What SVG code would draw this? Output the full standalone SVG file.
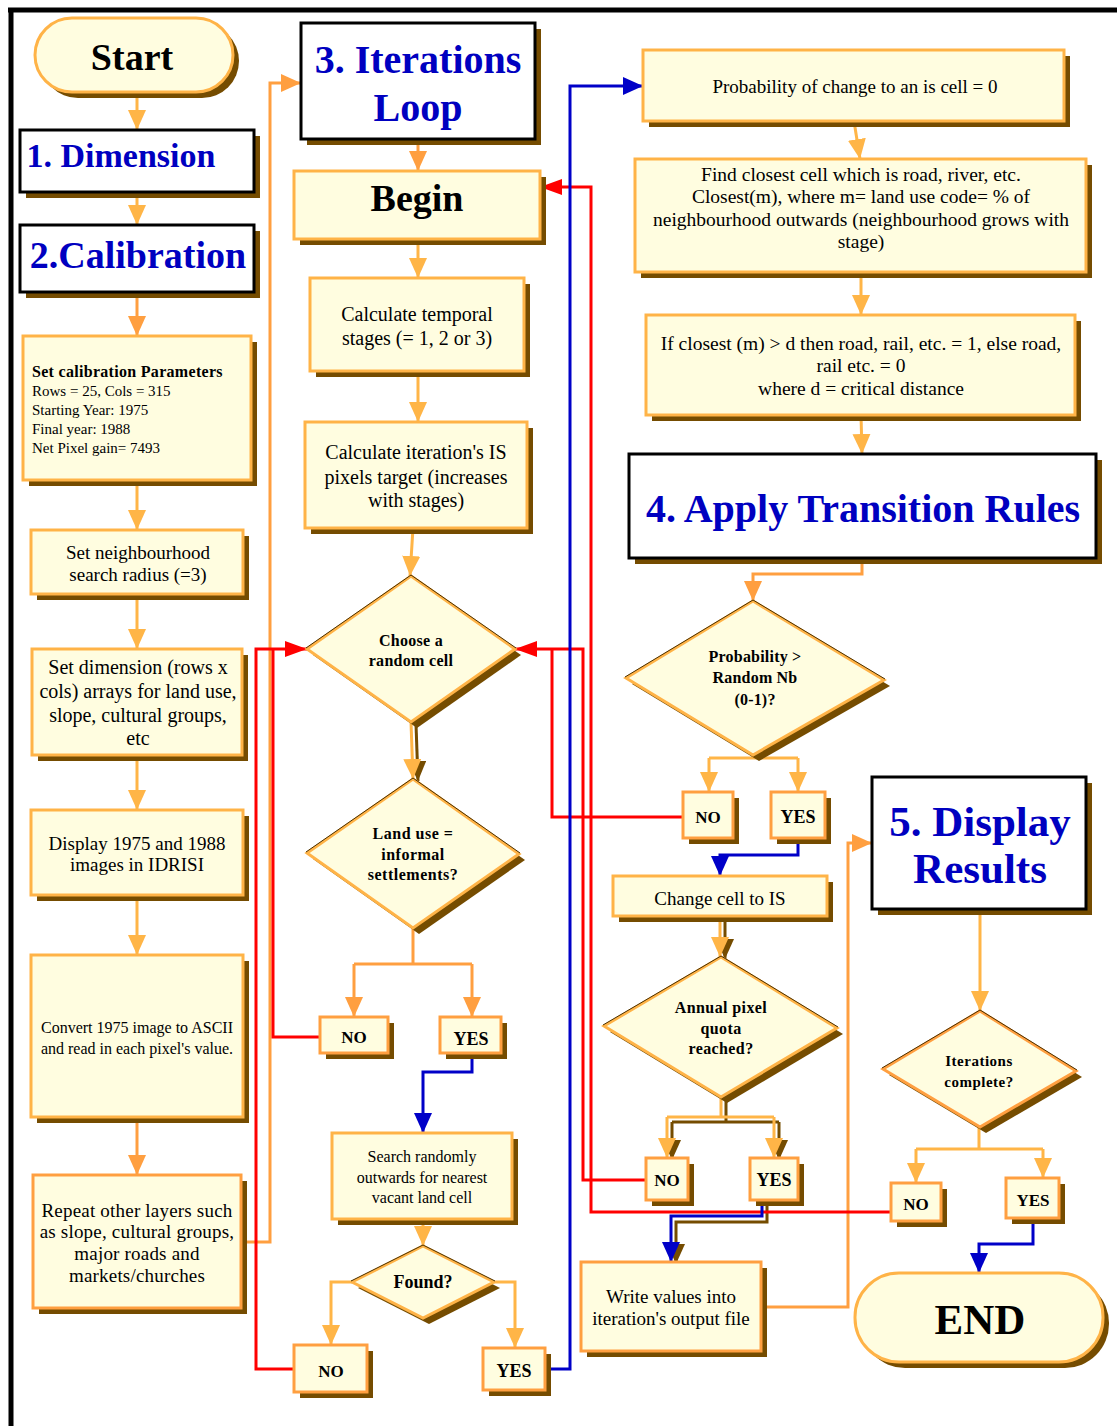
<svg xmlns="http://www.w3.org/2000/svg" width="1117" height="1426" viewBox="0 0 1117 1426">
<style>
.box{fill:#fffde0;stroke:#ffb347;stroke-width:3}
.box2{fill:#fffde0;stroke:#ff9f40;stroke-width:3}
.hdr{fill:#fff;stroke:#000;stroke-width:3}
.sh{fill:#754c00}
.edge{fill:none;stroke:#4a3000;stroke-width:1}
.t{font-family:"Liberation Serif","Times New Roman",serif;fill:#000;text-anchor:middle}
.l{text-anchor:start}
.b{font-weight:bold}
.ttl{font-family:"Liberation Serif","Times New Roman",serif;font-weight:bold;fill:#0000c0;text-anchor:middle}
.co{fill:none;stroke:#ffb547;stroke-width:3}
.co2{fill:none;stroke:#ff9f40;stroke-width:3}
.cs{fill:none;stroke:#754c00;stroke-width:3}
.red{fill:none;stroke:#ff0000;stroke-width:3}
.blue{fill:none;stroke:#0000c8;stroke-width:3}
</style>
<defs>
<marker id="aO" markerUnits="userSpaceOnUse" markerWidth="20" markerHeight="18" viewBox="0 0 20 18" refX="20" refY="9" orient="auto"><path d="M0,0L20,9L0,18z" fill="#ffb547"/></marker>
<marker id="aO2" markerUnits="userSpaceOnUse" markerWidth="20" markerHeight="18" viewBox="0 0 20 18" refX="20" refY="9" orient="auto"><path d="M0,0L20,9L0,18z" fill="#ff9f40"/></marker>
<marker id="aS" markerUnits="userSpaceOnUse" markerWidth="20" markerHeight="18" viewBox="0 0 20 18" refX="20" refY="9" orient="auto"><path d="M0,0L20,9L0,18z" fill="#754c00"/></marker>
<marker id="aR" markerUnits="userSpaceOnUse" markerWidth="22" markerHeight="16" viewBox="0 0 22 16" refX="22" refY="8" orient="auto"><path d="M0,0L22,8L0,16z" fill="#ff0000"/></marker>
<marker id="aB" markerUnits="userSpaceOnUse" markerWidth="20" markerHeight="18" viewBox="0 0 20 18" refX="20" refY="9" orient="auto"><path d="M0,0L20,9L0,18z" fill="#0000c8"/></marker>
</defs>
<rect width="1117" height="1426" fill="#fff"/>
<g id="frame">
<line x1="8" y1="10" x2="1117" y2="10" stroke="#000" stroke-width="5"/>
<line x1="11" y1="8" x2="11" y2="1426" stroke="#000" stroke-width="5"/>
</g>

<g id="connectors">
<path class="cs" d="M416,724 L418,781" marker-end="url(#aS)"/>
<path class="cs" d="M725,918 L725,959" marker-end="url(#aS)"/>
<path class="cs" d="M726,1099 L726,1122 M672,1122 L779,1122 M672,1122 L672,1160" marker-end="url(#aS)"/>
<path class="cs" d="M779,1122 L779,1160" marker-end="url(#aS)"/>
<path class="cs" d="M767,1202 L767,1222 L676,1222 L676,1264" marker-end="url(#aS)"/>
<path class="co" d="M137,92 L137,130" marker-end="url(#aO)"/>
<path class="co" d="M137,192 L137,225" marker-end="url(#aO)"/>
<path class="co2" d="M137,292 L137,336" marker-end="url(#aO2)"/>
<path class="co" d="M137,480 L137,530" marker-end="url(#aO)"/>
<path class="co" d="M137,594 L137,649" marker-end="url(#aO)"/>
<path class="co" d="M137,755 L137,810" marker-end="url(#aO)"/>
<path class="co" d="M137,895 L137,955" marker-end="url(#aO)"/>
<path class="co2" d="M137,1117 L137,1175" marker-end="url(#aO2)"/>
<path class="co2" d="M241,1242 L270,1242 L270,83 L301,83" marker-end="url(#aO2)"/>
<path class="co2" d="M418,139 L418,171" marker-end="url(#aO2)"/>
<path class="co" d="M418,239 L418,278" marker-end="url(#aO)"/>
<path class="co" d="M418,371 L418,422" marker-end="url(#aO)"/>
<path class="co" d="M413,528 L410,576" marker-end="url(#aO)"/>
<path class="co" d="M411,722 L413,779" marker-end="url(#aO)"/>
<path class="co2" d="M413,928 L413,964 M354,964 L472,964 M354,964 L354,1017" marker-end="url(#aO2)"/>
<path class="co2" d="M472,964 L472,1017" marker-end="url(#aO2)"/>
<path class="co" d="M423,1219 L423,1246" marker-end="url(#aO)"/>
<path class="co" d="M352,1282 L331,1282 L331,1345" marker-end="url(#aO)"/>
<path class="co" d="M494,1282 L515,1282 L515,1348" marker-end="url(#aO)"/>
<path class="co" d="M854,121 L860,159" marker-end="url(#aO)"/>
<path class="co" d="M861,272 L861,315" marker-end="url(#aO)"/>
<path class="co" d="M861,415 L862,454" marker-end="url(#aO)"/>
<path class="co2" d="M862,560 L862,574 L753,574 L753,601" marker-end="url(#aO2)"/>
<path class="co" d="M753,755 L753,758 M709,758 L798,758 M709,758 L709,792" marker-end="url(#aO)"/>
<path class="co" d="M798,758 L798,792" marker-end="url(#aO)"/>
<path class="co" d="M720,916 L720,957" marker-end="url(#aO)"/>
<path class="co" d="M721,1097 L721,1117 M667,1117 L774,1117 M667,1117 L667,1158" marker-end="url(#aO)"/>
<path class="co" d="M774,1117 L774,1158" marker-end="url(#aO)"/>
<path class="co2" d="M761,1307 L848,1307 L848,843 L872,843" marker-end="url(#aO2)"/>
<path class="co" d="M980,909 L980,1011" marker-end="url(#aO)"/>
<path class="co" d="M979,1127 L979,1149 M916,1149 L1043,1149 M916,1149 L916,1183" marker-end="url(#aO)"/>
<path class="co" d="M1043,1149 L1043,1178" marker-end="url(#aO)"/>
<path class="red" d="M320,1037 L273,1037 L273,649"/>
<path class="red" d="M294,1369 L256,1369 L256,649 L307,649" marker-end="url(#aR)"/>
<path class="red" d="M683,817 L552,817 L552,649"/>
<path class="red" d="M646,1180 L583,1180 L583,649 L515,649" marker-end="url(#aR)"/>
<path class="red" d="M891,1212 L591,1212 L591,187 L540,187" marker-end="url(#aR)"/>
<path class="blue" d="M545,1369 L570,1369 L570,86 L643,86" marker-end="url(#aB)"/>
<path class="blue" d="M472,1053 L472,1072 L423,1072 L423,1133" marker-end="url(#aB)"/>
<path class="blue" d="M798,838 L798,855 L720,855 L720,876" marker-end="url(#aB)"/>
<path class="blue" d="M762,1200 L762,1216 L671,1216 L671,1262" marker-end="url(#aB)"/>
<path class="blue" d="M1033,1218 L1033,1244 L979,1244 L979,1273" marker-end="url(#aB)"/>
</g>

<g id="start">
<rect class="sh" x="41" y="24" width="198" height="74" rx="37"/>
<rect class="box" x="35" y="18" width="198" height="74" rx="37"/>
<text class="t b" x="132" y="70" font-size="38">Start</text>
</g>
<g id="dimension">
<rect class="sh" x="26" y="136" width="234" height="62"/>
<rect class="hdr" x="20" y="130" width="234" height="62"/>
<text class="ttl" x="121" y="167" font-size="34">1. Dimension</text>
</g>
<g id="calibration">
<rect class="sh" x="26" y="231" width="234" height="67"/>
<rect class="hdr" x="20" y="225" width="234" height="67"/>
<text class="ttl" x="138" y="268" font-size="38">2.Calibration</text>
</g>
<g id="set-calibration">
<rect class="sh" x="29" y="342" width="228" height="144"/>
<rect class="box" x="23" y="336" width="228" height="144"/>
<text class="t b l" x="32" y="377" font-size="16" letter-spacing="0.3">Set calibration Parameters</text>
<text class="t l" x="32" y="396" font-size="15">Rows = 25, Cols = 315</text>
<text class="t l" x="32" y="415" font-size="15">Starting Year: 1975</text>
<text class="t l" x="32" y="434" font-size="15">Final year: 1988</text>
<text class="t l" x="32" y="453" font-size="15">Net Pixel gain= 7493</text>
</g>
<g id="neighbourhood">
<rect class="sh" x="37" y="536" width="212" height="64"/>
<rect class="box" x="31" y="530" width="212" height="64"/>
<text class="t" x="138" y="559" font-size="19">Set neighbourhood</text>
<text class="t" x="138" y="581" font-size="19">search radius (=3)</text>
</g>
<g id="set-dimension">
<rect class="sh" x="38" y="655" width="210" height="106"/>
<rect class="box" x="32" y="649" width="210" height="106"/>
<text class="t" x="138" y="674" font-size="20">Set dimension (rows x</text>
<text class="t" x="138" y="698" font-size="20">cols) arrays for land use,</text>
<text class="t" x="138" y="722" font-size="20">slope, cultural groups,</text>
<text class="t" x="138" y="745" font-size="20">etc</text>
</g>
<g id="display-images">
<rect class="sh" x="37" y="816" width="212" height="85"/>
<rect class="box" x="31" y="810" width="212" height="85"/>
<text class="t" x="137" y="850" font-size="19">Display 1975 and 1988</text>
<text class="t" x="137" y="871" font-size="19">images in IDRISI</text>
</g>
<g id="convert">
<rect class="sh" x="37" y="961" width="212" height="162"/>
<rect class="box" x="31" y="955" width="212" height="162"/>
<text class="t" x="137" y="1033" font-size="16">Convert 1975 image to ASCII</text>
<text class="t" x="137" y="1054" font-size="16">and read in each pixel's value.</text>
</g>
<g id="repeat">
<rect class="sh" x="39" y="1181" width="208" height="133"/>
<rect class="box2" x="33" y="1175" width="208" height="133"/>
<text class="t" x="137" y="1217" font-size="19" letter-spacing="0.2">Repeat other layers such</text>
<text class="t" x="137" y="1238" font-size="19" letter-spacing="0.2">as slope, cultural groups,</text>
<text class="t" x="137" y="1260" font-size="19" letter-spacing="0.2">major roads and</text>
<text class="t" x="137" y="1282" font-size="19" letter-spacing="0.2">markets/churches</text>
</g>

<g id="iterations-loop">
<rect class="sh" x="307" y="29" width="234" height="116"/>
<rect class="hdr" x="301" y="23" width="234" height="116"/>
<text class="ttl" x="418" y="73" font-size="40">3. Iterations</text>
<text class="ttl" x="418" y="121" font-size="40">Loop</text>
</g>
<g id="begin">
<rect class="sh" x="300" y="177" width="246" height="68"/>
<rect class="box" x="294" y="171" width="246" height="68"/>
<text class="t b" x="417" y="211" font-size="38">Begin</text>
</g>
<g id="temporal">
<rect class="sh" x="316" y="284" width="214" height="93"/>
<rect class="box" x="310" y="278" width="214" height="93"/>
<text class="t" x="417" y="321" font-size="20">Calculate temporal</text>
<text class="t" x="417" y="345" font-size="20">stages (= 1, 2 or 3)</text>
</g>
<g id="pixel-target">
<rect class="sh" x="311" y="428" width="222" height="106"/>
<rect class="box" x="305" y="422" width="222" height="106"/>
<text class="t" x="416" y="459" font-size="20">Calculate iteration's IS</text>
<text class="t" x="416" y="484" font-size="20">pixels target (increases</text>
<text class="t" x="416" y="507" font-size="20">with stages)</text>
</g>
<g id="choose-cell">
<polygon class="sh" points="417,582 521,655 417,728 313,655"/>
<polygon class="box" points="411,576 515,649 411,722 307,649" stroke-width="2.5"/>
<polyline class="edge" points="306,648 411,575 516,648"/>
<text class="t b" x="411" y="646" font-size="16" letter-spacing="0.3">Choose a</text>
<text class="t b" x="411" y="666" font-size="16" letter-spacing="0.3">random cell</text>
</g>
<g id="land-use">
<polygon class="sh" points="419,785 525,860 419,934 313,859"/>
<polygon class="box" points="413,779 519,854 413,928 307,853" stroke-width="2.5"/>
<polyline class="edge" points="306,852 413,778 520,853"/>
<text class="t b" x="413" y="839" font-size="16" letter-spacing="0.5">Land use =</text>
<text class="t b" x="413" y="860" font-size="16" letter-spacing="0.5">informal</text>
<text class="t b" x="413" y="880" font-size="16" letter-spacing="0.5">settlements?</text>
</g>
<g id="no-landuse">
<rect class="sh" x="326" y="1023" width="68" height="36"/>
<rect class="box2" x="320" y="1017" width="68" height="36"/>
<text class="t b" x="354" y="1043" font-size="17">NO</text>
</g>
<g id="yes-landuse">
<rect class="sh" x="446" y="1023" width="61" height="36"/>
<rect class="box2" x="440" y="1017" width="61" height="36"/>
<text class="t b" x="471" y="1045" font-size="18">YES</text>
</g>
<g id="search">
<rect class="sh" x="338" y="1139" width="180" height="86"/>
<rect class="box" x="332" y="1133" width="180" height="86"/>
<text class="t" x="422" y="1162" font-size="16">Search randomly</text>
<text class="t" x="422" y="1183" font-size="16">outwards for nearest</text>
<text class="t" x="422" y="1203" font-size="16">vacant land cell</text>
</g>
<g id="found">
<polygon class="sh" points="429,1252 500,1288 429,1324 358,1288"/>
<polygon class="box" points="423,1246 494,1282 423,1318 352,1282" stroke-width="2.5"/>
<polyline class="edge" points="351,1281 423,1245 495,1281"/>
<text class="t b" x="423" y="1288" font-size="18">Found?</text>
</g>
<g id="no-found">
<rect class="sh" x="300" y="1351" width="73" height="47"/>
<rect class="box2" x="294" y="1345" width="73" height="47"/>
<text class="t b" x="331" y="1377" font-size="17">NO</text>
</g>
<g id="yes-found">
<rect class="sh" x="489" y="1354" width="62" height="42"/>
<rect class="box2" x="483" y="1348" width="62" height="42"/>
<text class="t b" x="514" y="1377" font-size="18">YES</text>
</g>

<g id="probability-zero">
<rect class="sh" x="649" y="56" width="421" height="71"/>
<rect class="box" x="643" y="50" width="421" height="71"/>
<text class="t" x="855" y="93" font-size="19">Probability of change to an is cell = 0</text>
</g>
<g id="find-closest">
<rect class="sh" x="641" y="165" width="451" height="113"/>
<rect class="box" x="635" y="159" width="451" height="113"/>
<text class="t" x="861" y="181" font-size="19.5">Find closest cell which is road, river, etc.</text>
<text class="t" x="861" y="203" font-size="19.5">Closest(m), where m= land use code= % of</text>
<text class="t" x="861" y="226" font-size="19.5">neighbourhood outwards (neighbourhood grows with</text>
<text class="t" x="861" y="248" font-size="19.5">stage)</text>
</g>
<g id="if-closest">
<rect class="sh" x="652" y="321" width="429" height="100"/>
<rect class="box" x="646" y="315" width="429" height="100"/>
<text class="t" x="861" y="350" font-size="19.5">If closest (m) &gt; d then road, rail, etc. = 1, else road,</text>
<text class="t" x="861" y="372" font-size="19.5">rail etc. = 0</text>
<text class="t" x="861" y="395" font-size="19.5">where d = critical distance</text>
</g>
<g id="apply-rules">
<rect class="sh" x="635" y="460" width="467" height="104"/>
<rect class="hdr" x="629" y="454" width="467" height="104"/>
<text class="ttl" x="863" y="522" font-size="40">4. Apply Transition Rules</text>
</g>
<g id="probability-random">
<polygon class="sh" points="759,607 890,686 759,761 632,684"/>
<polygon class="box" points="753,601 884,680 753,755 626,678" stroke-width="2.5"/>
<polyline class="edge" points="625,677 753,600 885,679"/>
<text class="t b" x="755" y="662" font-size="16" letter-spacing="0.2">Probability &gt;</text>
<text class="t b" x="755" y="683" font-size="16" letter-spacing="0.2">Random Nb</text>
<text class="t b" x="755" y="705" font-size="16" letter-spacing="0.2">(0-1)?</text>
</g>
<g id="no-prob">
<rect class="sh" x="689" y="798" width="50" height="46"/>
<rect class="box2" x="683" y="792" width="50" height="46"/>
<text class="t b" x="708" y="823" font-size="17">NO</text>
</g>
<g id="yes-prob">
<rect class="sh" x="777" y="798" width="54" height="46"/>
<rect class="box2" x="771" y="792" width="54" height="46"/>
<text class="t b" x="798" y="823" font-size="18">YES</text>
</g>
<g id="change-cell">
<rect class="sh" x="619" y="882" width="214" height="40"/>
<rect class="box" x="613" y="876" width="214" height="40"/>
<text class="t" x="720" y="905" font-size="19">Change cell to IS</text>
</g>
<g id="quota">
<polygon class="sh" points="727,963 843,1034 727,1103 610,1032"/>
<polygon class="box" points="721,957 837,1028 721,1097 604,1026" stroke-width="2.5"/>
<polyline class="edge" points="603,1025 721,956 838,1027"/>
<text class="t b" x="721" y="1013" font-size="16" letter-spacing="0.4">Annual pixel</text>
<text class="t b" x="721" y="1034" font-size="16" letter-spacing="0.4">quota</text>
<text class="t b" x="721" y="1054" font-size="16" letter-spacing="0.4">reached?</text>
</g>
<g id="no-quota">
<rect class="sh" x="652" y="1164" width="42" height="42"/>
<rect class="box2" x="646" y="1158" width="42" height="42"/>
<text class="t b" x="667" y="1186" font-size="17">NO</text>
</g>
<g id="yes-quota">
<rect class="sh" x="756" y="1164" width="48" height="42"/>
<rect class="box2" x="750" y="1158" width="48" height="42"/>
<text class="t b" x="774" y="1186" font-size="18">YES</text>
</g>
<g id="write-values">
<rect class="sh" x="587" y="1268" width="180" height="89"/>
<rect class="box2" x="581" y="1262" width="180" height="89"/>
<text class="t" x="671" y="1303" font-size="19">Write values into</text>
<text class="t" x="671" y="1325" font-size="19">iteration's output file</text>
</g>

<g id="display-results">
<rect class="sh" x="878" y="783" width="214" height="132"/>
<rect class="hdr" x="872" y="777" width="214" height="132"/>
<text class="ttl" x="980" y="836" font-size="43">5. Display</text>
<text class="ttl" x="980" y="883" font-size="43">Results</text>
</g>
<g id="iterations-complete">
<polygon class="sh" points="986,1017 1082,1077 986,1133 889,1075"/>
<polygon class="box2" points="980,1011 1076,1071 980,1127 883,1069" stroke-width="2.5"/>
<polyline class="edge" points="882,1068 980,1010 1077,1070"/>
<text class="t b" x="979" y="1066" font-size="15" letter-spacing="0.5">Iterations</text>
<text class="t b" x="979" y="1087" font-size="15" letter-spacing="0.5">complete?</text>
</g>
<g id="no-iter">
<rect class="sh" x="897" y="1189" width="50" height="38"/>
<rect class="box2" x="891" y="1183" width="50" height="38"/>
<text class="t b" x="916" y="1210" font-size="17">NO</text>
</g>
<g id="yes-iter">
<rect class="sh" x="1012" y="1184" width="53" height="40"/>
<rect class="box2" x="1006" y="1178" width="53" height="40"/>
<text class="t b" x="1033" y="1206" font-size="17">YES</text>
</g>
<g id="end">
<rect class="sh" x="861" y="1279" width="248" height="89" rx="44"/>
<rect class="box" x="855" y="1273" width="248" height="89" rx="44"/>
<text class="t b" x="980" y="1334" font-size="43">END</text>
</g>
</svg>
